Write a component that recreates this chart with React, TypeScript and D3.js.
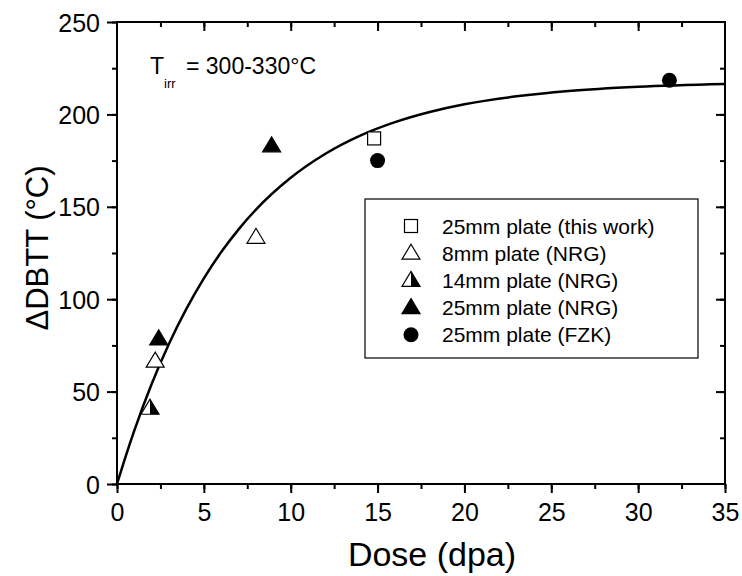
import * as d3 from "d3";
import React, { useEffect, useRef } from "react";

// fitted trend line
const fitDose = [0, 0.5, 1, 2, 3, 4, 5, 6, 7, 8, 10, 12, 14, 16, 18, 20, 23, 26, 30, 35];
const fitDbtt = [0, 15, 29, 54.2, 76, 94.9, 111.3, 125.5, 137.8, 148.5, 165.7, 178.7, 188.5, 195.8, 201.3, 205.5, 209.8, 212.7, 215, 216.5];

// measured points
const thisWorkDose = [14.8];
const thisWorkDbtt = [187];
const nrg8Dose = [2.2, 8.0];
const nrg8Dbtt = [66.5, 133.5];
const nrg14Dose = [1.9];
const nrg14Dbtt = [41];
const nrg25Dose = [2.4, 8.9];
const nrg25Dbtt = [78.5, 183];
const fzkDose = [15.0, 31.8];
const fzkDbtt = [175, 218.5];

const legendLabels = [
  "25mm plate (this work)",
  "8mm plate (NRG)",
  "14mm plate (NRG)",
  "25mm plate (NRG)",
  "25mm plate (FZK)",
];
const markerKinds = ["square", "triOpen", "triHalf", "triFilled", "circle"];

const xTicks = [0, 5, 10, 15, 20, 25, 30, 35];
const yTicks = [0, 50, 100, 150, 200, 250];

const font = "Arial, 'Liberation Sans', sans-serif";

function drawMarker(g: any, kind: string, cx: number, cy: number) {
  if (kind === "square") {
    g.append("rect").attr("x", cx - 6.5).attr("y", cy - 6.5).attr("width", 13).attr("height", 13)
      .attr("fill", "white").attr("stroke", "black").attr("stroke-width", 1.2);
  } else if (kind === "circle") {
    g.append("circle").attr("cx", cx).attr("cy", cy).attr("r", 7.5).attr("fill", "black");
  } else {
    const w = 9, top = cy - 9, bot = cy + 6;
    const tri = `M${cx},${top}L${cx + w},${bot}L${cx - w},${bot}Z`;
    if (kind === "triHalf") {
      g.append("path").attr("d", tri).attr("fill", "white").attr("stroke", "black").attr("stroke-width", 1.2);
      g.append("path").attr("d", `M${cx},${top}L${cx + w},${bot}L${cx},${bot}Z`).attr("fill", "black");
    } else {
      g.append("path").attr("d", tri)
        .attr("fill", kind === "triFilled" ? "black" : "white")
        .attr("stroke", "black").attr("stroke-width", 1.2).attr("stroke-linejoin", "miter");
    }
  }
}

function drawChart(svgEl: SVGSVGElement) {
  const svg = d3.select(svgEl);
  svg.selectAll("*").remove();

  const left = 117, right = 725, top = 22, bottom = 484;
  const x = d3.scaleLinear().domain([0, 35]).range([left, right]);
  const y = d3.scaleLinear().domain([0, 250]).range([bottom, top]);

  const axisW = 2;
  const major = 9, minor = 5;

  // bottom axis (ticks out)
  svg.append("g").attr("transform", `translate(0,${bottom})`)
    .call(d3.axisBottom(x).tickValues(d3.range(0, 35.01, 2.5)).tickSize(minor).tickFormat(() => "").tickSizeOuter(0));
  svg.append("g").attr("transform", `translate(0,${bottom})`)
    .call(d3.axisBottom(x).tickValues(xTicks).tickSize(major).tickPadding(10).tickSizeOuter(0))
    .call(g => g.selectAll("text").attr("font-size", 25).attr("font-family", font).attr("fill", "black"));
  // left axis (ticks out)
  svg.append("g").attr("transform", `translate(${left},0)`)
    .call(d3.axisLeft(y).tickValues(d3.range(0, 250.01, 25)).tickSize(minor).tickFormat(() => "").tickSizeOuter(0));
  svg.append("g").attr("transform", `translate(${left},0)`)
    .call(d3.axisLeft(y).tickValues(yTicks).tickSize(major + 1).tickPadding(7).tickSizeOuter(0))
    .call(g => g.selectAll("text").attr("font-size", 25).attr("font-family", font).attr("fill", "black").attr("dy", "0.36em"));
  // top axis (ticks in)
  svg.append("g").attr("transform", `translate(0,${top})`)
    .call(d3.axisBottom(x).tickValues(d3.range(2.5, 35, 2.5)).tickSize(minor).tickFormat(() => "").tickSizeOuter(0));
  svg.append("g").attr("transform", `translate(0,${top})`)
    .call(d3.axisBottom(x).tickValues(xTicks.slice(1, -1)).tickSize(major).tickFormat(() => "").tickSizeOuter(0));
  // right axis (ticks in)
  svg.append("g").attr("transform", `translate(${right},0)`)
    .call(d3.axisLeft(y).tickValues(d3.range(25, 250, 25)).tickSize(minor).tickFormat(() => "").tickSizeOuter(0));
  svg.append("g").attr("transform", `translate(${right},0)`)
    .call(d3.axisLeft(y).tickValues(yTicks.slice(1, -1)).tickSize(major).tickFormat(() => "").tickSizeOuter(0));

  svg.selectAll(".domain").remove();
  svg.selectAll(".tick line").attr("stroke", "black").attr("stroke-width", axisW);

  svg.append("rect").attr("x", left).attr("y", top).attr("width", right - left).attr("height", bottom - top)
    .attr("fill", "none").attr("stroke", "black").attr("stroke-width", axisW);

  // fit curve
  const fit = fitDose.map((d, i) => [d, fitDbtt[i]] as [number, number]);
  const line = d3.line<[number, number]>().x(d => x(d[0])).y(d => y(d[1])).curve(d3.curveMonotoneX);
  svg.append("path").datum(fit).attr("d", line).attr("fill", "none").attr("stroke", "black").attr("stroke-width", 2.5);

  // points
  const pts = svg.append("g");
  const sets: [number[], number[], string][] = [
    [thisWorkDose, thisWorkDbtt, "square"],
    [nrg8Dose, nrg8Dbtt, "triOpen"],
    [nrg14Dose, nrg14Dbtt, "triHalf"],
    [nrg25Dose, nrg25Dbtt, "triFilled"],
    [fzkDose, fzkDbtt, "circle"],
  ];
  sets.forEach(([xs, ys, kind]) => xs.forEach((d, i) => drawMarker(pts, kind, x(d), y(ys[i]))));

  // legend
  const lg = svg.append("g");
  lg.append("rect").attr("x", 365).attr("y", 199).attr("width", 333).attr("height", 159)
    .attr("fill", "white").attr("stroke", "black").attr("stroke-width", 1.2);
  legendLabels.forEach((lab, i) => {
    const cy = 226 + i * 27.2;
    drawMarker(lg, markerKinds[i], 411, cy);
    lg.append("text").attr("x", 442).attr("y", cy).attr("dy", "0.36em")
      .attr("font-size", 21).attr("font-family", font).text(lab);
  });

  // annotation
  svg.append("text").attr("x", 150).attr("y", 74).attr("font-size", 23).attr("font-family", font).text("T");
  svg.append("text").attr("x", 164).attr("y", 88).attr("font-size", 13).attr("font-family", font).text("irr");
  svg.append("text").attr("x", 186).attr("y", 74).attr("font-size", 23).attr("font-family", font).text("= 300-330°C");

  // axis titles
  svg.append("text").attr("x", 432).attr("y", 566).attr("text-anchor", "middle")
    .attr("font-size", 34).attr("font-family", font).text("Dose (dpa)");
  svg.append("text").attr("transform", "translate(48,248) rotate(-90)").attr("text-anchor", "middle")
    .attr("font-size", 31).attr("font-family", font).text("ΔDBTT (°C)");
}

export default function App() {
  const ref = useRef<SVGSVGElement>(null);
  useEffect(() => {
    if (ref.current) drawChart(ref.current);
  }, []);
  return (
    <svg ref={ref} width={742} height={576}
      style={{ position: "absolute", left: 0, top: 0, background: "white" }} />
  );
}
